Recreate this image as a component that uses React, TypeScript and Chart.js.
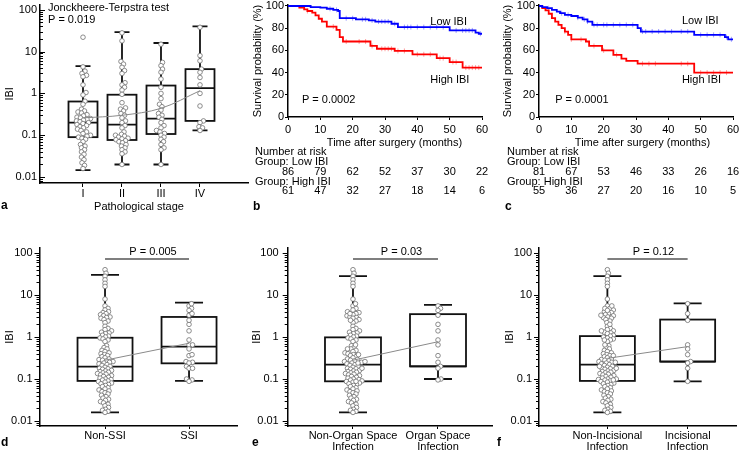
import React, { useEffect, useRef } from "react";
import { Chart, registerables } from "chart.js";

Chart.register(...registerables);

const FONT = "'Liberation Sans', Arial, Helvetica, sans-serif";
Chart.defaults.font.family = FONT;
Chart.defaults.font.size = 11;
Chart.defaults.color = "#000";

const PAGE_W = 741;
const PAGE_H = 452;

// ---------------- Panel a : IBI by pathological stage ----------------
const stageLabels = ["I", "II", "III", "IV"];
const stageQ1 = [0.09, 0.077, 0.107, 0.22];
const stageMedian = [0.2, 0.18, 0.25, 1.33];
const stageQ3 = [0.64, 0.93, 1.54, 3.8];
const stageWhiskerLow = [0.0146, 0.02, 0.02, 0.13];
const stageWhiskerHigh = [4.5, 29, 16, 40];
const stageMean = [0.26, 0.3, 0.44, 1.16];
const stageIValues = [22, 4.3, 3.4, 3.0, 2.7, 2.5, 1.6, 1.05, 0.92, 0.65, 0.55, 0.42, 0.38, 0.36, 0.34, 0.31, 0.29, 0.27, 0.26, 0.25, 0.24, 0.23, 0.22, 0.21, 0.2, 0.19, 0.18, 0.17, 0.16, 0.15, 0.14, 0.13, 0.12, 0.11, 0.1, 0.095, 0.09, 0.085, 0.08, 0.07, 0.06, 0.055, 0.05, 0.045, 0.04, 0.035, 0.03, 0.026, 0.022, 0.019, 0.016];
const stageIIValues = [28, 18, 5.8, 5.0, 4.2, 3.5, 3.0, 1.8, 1.6, 1.4, 1.2, 0.95, 0.6, 0.45, 0.42, 0.38, 0.33, 0.3, 0.26, 0.22, 0.2, 0.17, 0.15, 0.12, 0.105, 0.1, 0.095, 0.09, 0.085, 0.082, 0.078, 0.074, 0.07, 0.066, 0.06, 0.055, 0.05, 0.045, 0.04, 0.036, 0.02];
const stageIIIValues = [15, 5.5, 4.6, 3.8, 3.2, 2.2, 1.4, 1.0, 0.75, 0.55, 0.48, 0.4, 0.33, 0.3, 0.27, 0.24, 0.2, 0.17, 0.15, 0.13, 0.12, 0.11, 0.1, 0.09, 0.08, 0.07, 0.06, 0.05, 0.045, 0.02];
const stageIVValues = [38, 8, 6, 3.8, 3.2, 2.4, 1.6, 1.0, 0.5, 0.22, 0.2, 0.16, 0.15, 0.13];

// ---------------- Panels b, c : Kaplan-Meier ----------------
const kmXTicks = [0, 10, 20, 30, 40, 50, 60];
const kmYTicks = [0, 20, 40, 60, 80, 100];
const riskTimes = [0, 10, 20, 30, 40, 50, 60];

const bLowTimes = [0, 7, 10, 12, 14, 15.5, 16, 21, 25, 27, 32, 34, 50, 58, 59, 60];
const bLowSurv = [100, 99, 98.5, 97.5, 96.5, 95.5, 89, 88, 87, 86, 84, 81, 78, 76, 75, 75];
const bHighTimes = [0, 3.5, 5, 6, 7.5, 8.5, 9.5, 10.5, 12, 15, 16, 17, 25.5, 27.5, 33, 38.5, 46, 50, 54, 60];
const bHighSurv = [100, 98.5, 97, 95.5, 94, 91.5, 88.5, 86, 81.5, 78.5, 72, 68, 64, 61.5, 59.5, 56.5, 53, 49.5, 44.5, 44.5];
const bLowCensor = [13, 15, 18, 20, 23, 24, 26, 28, 29, 30, 31, 33, 36, 37, 38, 40, 42, 44, 46, 48, 52, 54, 55, 56, 57, 59.5];
const bHighCensor = [6, 14, 18, 22, 24, 26, 29, 30, 31, 32, 34, 36, 40, 42, 44, 47, 48, 51, 52, 55, 56, 57, 58, 59];
const bLowAtRisk = [86, 79, 62, 52, 37, 30, 22];
const bHighAtRisk = [61, 47, 32, 27, 18, 14, 6];

const cLowTimes = [0, 1, 2.5, 4, 5.5, 6.5, 8, 10, 12, 13.5, 15, 16.5, 30.5, 31.5, 48, 57.5, 58.5, 60];
const cLowSurv = [100, 99, 98, 96.5, 95, 93.5, 92, 91, 89.5, 88, 86, 83, 80, 77, 74, 72, 70, 70];
const cHighTimes = [0, 1, 2, 3, 4, 5, 6, 7, 8, 9, 10, 14.5, 15.5, 19.5, 23, 25.5, 27, 30.5, 48, 60];
const cHighSurv = [100, 98, 96, 93, 89, 86, 83, 80, 77, 74, 70, 68, 64, 60, 56, 52.5, 50.5, 48, 40, 40];
const cLowCensor = [3, 7, 9, 12, 14, 15, 17, 18, 20, 21, 23, 25, 27, 29, 32, 33, 35, 37, 39, 41, 44, 46, 50, 52, 54, 56, 58, 59.5];
const cHighCensor = [8, 10, 13, 17, 20, 24, 32, 34, 36, 44, 46, 50, 52, 54, 56, 58];
const cLowAtRisk = [81, 67, 53, 46, 33, 26, 16];
const cHighAtRisk = [55, 36, 27, 20, 16, 10, 5];

// ---------------- Panels d, e, f : IBI by infection ----------------
const logTicks = [0.01, 0.1, 1, 10, 100];
const nonSSIValues = [40, 33, 28, 23, 19, 16, 8, 5.5, 4.8, 4.4, 4.0, 3.8, 3.6, 3.4, 3.2, 3.0, 2.9, 2.8, 2.6, 2.4, 2.2, 1.8, 1.6, 1.5, 1.4, 1.3, 1.25, 1.2, 1.1, 1.05, 1.0, 0.95, 0.9, 0.85, 0.78, 0.62, 0.56, 0.52, 0.48, 0.45, 0.42, 0.4, 0.38, 0.36, 0.34, 0.32, 0.3, 0.29, 0.28, 0.27, 0.26, 0.25, 0.24, 0.23, 0.22, 0.21, 0.2, 0.19, 0.18, 0.175, 0.17, 0.16, 0.155, 0.15, 0.145, 0.14, 0.135, 0.13, 0.125, 0.12, 0.115, 0.11, 0.105, 0.1, 0.097, 0.094, 0.09, 0.087, 0.084, 0.08, 0.077, 0.074, 0.07, 0.066, 0.062, 0.058, 0.055, 0.052, 0.05, 0.047, 0.044, 0.041, 0.038, 0.035, 0.033, 0.031, 0.029, 0.027, 0.025, 0.023, 0.021, 0.019, 0.018, 0.017, 0.016];
const organSpaceValues = [5.5, 4.8, 4.3, 3.3, 2.0, 1.4, 0.85, 0.65, 0.36, 0.25, 0.2, 0.18, 0.1, 0.095];
const incisionalValues = [6.2, 3.6, 2.5, 0.65, 0.52, 0.38, 0.26, 0.24, 0.18, 0.088];
const ssiValues = [...organSpaceValues, ...incisionalValues];
const nonOrganSpaceValues = [...nonSSIValues, ...incisionalValues];
const nonIncisionalValues = [...nonSSIValues, ...organSpaceValues];

const dLabels = ["Non-SSI", "SSI"];
const dQ1 = [0.09, 0.236];
const dMedian = [0.197, 0.59];
const dQ3 = [0.96, 3.0];
const dLow = [0.016, 0.09];
const dHigh = [30, 6.6];
const dMean = [0.28, 0.71];

const eLabels = [["Non-Organ Space", "Infection"], ["Organ Space", "Infection"]];
const eQ1 = [0.088, 0.2];
const eMedian = [0.22, 0.2];
const eQ3 = [0.98, 3.5];
const eLow = [0.016, 0.1];
const eHigh = [28, 5.8];
const eMean = [0.28, 0.77];

const fLabels = [["Non-Incisional", "Infection"], ["Incisional", "Infection"]];
const fQ1 = [0.09, 0.26];
const fMedian = [0.22, 0.26];
const fQ3 = [1.05, 2.6];
const fLow = [0.016, 0.088];
const fHigh = [28, 6.3];
const fMean = [0.31, 0.59];

// ---------------- helpers ----------------
function swarmOffsets(values: number[], pxPerDecade: number, minDist: number): number[] {
  const order = values.map((_, i) => i).sort((a, b) => values[a] - values[b]);
  const placed: { x: number; y: number }[] = [];
  const result = new Array(values.length).fill(0);
  for (const i of order) {
    const y = Math.log10(values[i]) * pxPerDecade;
    let chosen = 0;
    for (let k = 0; k < 600; k++) {
      const mag = Math.ceil(k / 2) * 0.5;
      const cand = k % 2 === 1 ? mag : -mag;
      let ok = true;
      for (const p of placed) {
        const dy = p.y - y;
        if (Math.abs(dy) < minDist) {
          const dx = p.x - cand;
          if (dx * dx + dy * dy < minDist * minDist) {
            ok = false;
            break;
          }
        }
      }
      if (ok) {
        chosen = cand;
        break;
      }
    }
    placed.push({ x: chosen, y });
    result[i] = chosen;
  }
  return result;
}

function survAt(times: number[], surv: number[], t: number): number {
  let s = surv[0];
  for (let i = 0; i < times.length; i++) if (times[i] <= t) s = surv[i];
  return s;
}

function drawLetter(ctx: CanvasRenderingContext2D, letter: string, x: number, y: number) {
  ctx.save();
  ctx.fillStyle = "#000";
  ctx.font = `bold 12px ${FONT}`;
  ctx.textAlign = "left";
  ctx.textBaseline = "alphabetic";
  ctx.fillText(letter, x, y);
  ctx.restore();
}

function drawText(ctx: CanvasRenderingContext2D, text: string, x: number, y: number, align: CanvasTextAlign = "left") {
  ctx.save();
  ctx.fillStyle = "#000";
  ctx.font = `11px ${FONT}`;
  ctx.textAlign = align;
  ctx.textBaseline = "middle";
  ctx.fillText(text, x, y);
  ctx.restore();
}

type Area = { l: number; t: number; r: number; b: number };

type BoxSpec = {
  area: Area;
  yMin: number;
  yMax: number;
  xMin: number;
  xMax: number;
  labels: (string | string[])[];
  q1: number[];
  med: number[];
  q3: number[];
  lo: number[];
  hi: number[];
  mean: number[];
  points: number[][];
  boxW: number;
  capW: number;
  pxPerUnit: number;
  pxPerDecade: number;
  swarmDist: number;
  yTitleX: number;
  yLabelPad: number;
  tickDir: number;
  xTickLen: number;
  xTickPad: number;
  xAxisH: number;
  xLineHeight: number;
  meanTension: number;
  extra: (ctx: CanvasRenderingContext2D, chart: any) => void;
};

function boxConfig(s: BoxSpec): any {
  const padL = s.yTitleX - 6.6;
  const datasets: any[] = [
    {
      type: "line",
      data: s.mean.map((m, i) => ({ x: i + 1, y: m })),
      borderColor: "#8a8a8a",
      borderWidth: 1,
      pointRadius: 0,
      tension: s.meanTension,
      fill: false,
    },
  ];
  s.points.forEach((vals, ci) => {
    const offs = swarmOffsets(vals, s.pxPerDecade, s.swarmDist);
    datasets.push({
      type: "scatter",
      data: vals.map((v, i) => ({ x: ci + 1 + offs[i] / s.pxPerUnit, y: v })),
      pointRadius: 2.3,
      pointBorderWidth: 0.8,
      pointBorderColor: "#707070",
      pointBackgroundColor: "#ffffff",
      showLine: false,
    });
  });

  const plugin = {
    id: "boxplot",
    beforeDatasetsDraw(chart: any) {
      const { ctx } = chart;
      const x = chart.scales.x;
      const y = chart.scales.y;
      ctx.save();
      ctx.strokeStyle = "#111";
      ctx.lineWidth = 1.8;
      s.q1.forEach((_, i) => {
        const cx = x.getPixelForValue(i + 1);
        const pq1 = y.getPixelForValue(s.q1[i]);
        const pq3 = y.getPixelForValue(s.q3[i]);
        const pmed = y.getPixelForValue(s.med[i]);
        const plo = y.getPixelForValue(s.lo[i]);
        const phi = y.getPixelForValue(s.hi[i]);
        ctx.beginPath();
        ctx.moveTo(cx, phi);
        ctx.lineTo(cx, pq3);
        ctx.moveTo(cx, pq1);
        ctx.lineTo(cx, plo);
        ctx.moveTo(cx - s.capW / 2, phi);
        ctx.lineTo(cx + s.capW / 2, phi);
        ctx.moveTo(cx - s.capW / 2, plo);
        ctx.lineTo(cx + s.capW / 2, plo);
        ctx.moveTo(cx - s.boxW / 2, pmed);
        ctx.lineTo(cx + s.boxW / 2, pmed);
        ctx.stroke();
        ctx.strokeRect(cx - s.boxW / 2, pq3, s.boxW, pq1 - pq3);
      });
      ctx.restore();
    },
    afterDraw(chart: any) {
      const { ctx, chartArea } = chart;
      const y = chart.scales.y;
      ctx.save();
      ctx.strokeStyle = "#000";
      ctx.lineWidth = 1;
      const ax = chartArea.left;
      for (let d = -3; d <= 2; d++) {
        for (let k = 1; k <= 9; k++) {
          const v = k * Math.pow(10, d);
          if (v < s.yMin || v > s.yMax) continue;
          const py = Math.round(y.getPixelForValue(v)) + 0.5;
          const len = k === 1 ? 5 : 3;
          ctx.beginPath();
          ctx.moveTo(ax, py);
          ctx.lineTo(ax + s.tickDir * len, py);
          ctx.stroke();
        }
      }
      ctx.restore();
      s.extra(ctx, chart);
    },
  };

  return {
    type: "scatter",
    data: { datasets },
    plugins: [plugin],
    options: {
      animation: false,
      responsive: false,
      maintainAspectRatio: false,
      devicePixelRatio: 1,
      events: [],
      layout: {
        padding: {
          left: padL,
          top: s.area.t,
          right: PAGE_W - s.area.r,
          bottom: PAGE_H - s.area.b - s.xAxisH,
        },
      },
      plugins: { legend: { display: false }, tooltip: { enabled: false } },
      scales: {
        x: {
          type: "linear",
          min: s.xMin,
          max: s.xMax,
          bounds: "data",
          afterBuildTicks: (sc: any) => {
            sc.ticks = s.labels.map((_, i) => ({ value: i + 1 }));
          },
          afterFit: (sc: any) => {
            sc.height = s.xAxisH;
            sc.paddingLeft = 0;
            sc.paddingRight = 0;
          },
          grid: { display: true, drawOnChartArea: false, drawTicks: true, tickLength: s.xTickLen, color: "#000", lineWidth: 1 },
          border: { display: true, color: "#000", width: 1.5 },
          ticks: {
            callback: (_v: any, i: number) => s.labels[i],
            padding: s.xTickPad,
            maxRotation: 0,
            autoSkip: false,
            color: "#000",
            font: { size: 11, lineHeight: s.xLineHeight },
          },
          title: { display: false },
        },
        y: {
          type: "logarithmic",
          min: s.yMin,
          max: s.yMax,
          bounds: "data",
          afterBuildTicks: (sc: any) => {
            sc.ticks = logTicks.map((v) => ({ value: v }));
          },
          afterFit: (sc: any) => {
            sc.width = s.area.l - padL;
            sc.paddingTop = 0;
            sc.paddingBottom = 0;
          },
          grid: { display: false, drawTicks: false },
          border: { display: true, color: "#000", width: 1.5 },
          ticks: {
            callback: (v: any) => String(v),
            padding: s.yLabelPad,
            color: "#000",
            font: { size: 11 },
          },
          title: { display: true, text: "IBI", padding: 0, color: "#000", font: { size: 11 } },
        },
      },
    },
  };
}

type KMSpec = {
  area: Area;
  lowT: number[];
  lowS: number[];
  highT: number[];
  highS: number[];
  lowC: number[];
  highC: number[];
  lowRisk: number[];
  highRisk: number[];
  yTitleX: number;
  xTitleX: number;
  textLeft: number;
  pText: string;
  lowLabelAt: [number, number];
  highLabelAt: [number, number];
  pAt: [number, number];
  letter: string;
  letterX: number;
};

function kmConfig(s: KMSpec): any {
  const padL = s.yTitleX - 6.6;
  const xAxisH = 32.3;
  const datasets: any[] = [
    {
      type: "line",
      data: s.lowT.map((t, i) => ({ x: t, y: s.lowS[i] })),
      stepped: "before",
      borderColor: "#0000ff",
      borderWidth: 1.8,
      pointRadius: 0,
      fill: false,
    },
    {
      type: "line",
      data: s.highT.map((t, i) => ({ x: t, y: s.highS[i] })),
      stepped: "before",
      borderColor: "#ff0000",
      borderWidth: 1.8,
      pointRadius: 0,
      fill: false,
    },
    {
      type: "scatter",
      data: s.lowC.map((t) => ({ x: t, y: survAt(s.lowT, s.lowS, t) })),
      pointStyle: "line",
      rotation: 90,
      pointRadius: 2.5,
      pointBorderWidth: 1,
      pointBorderColor: "rgba(80,80,255,0.55)",
      showLine: false,
    },
    {
      type: "scatter",
      data: s.highC.map((t) => ({ x: t, y: survAt(s.highT, s.highS, t) })),
      pointStyle: "line",
      rotation: 90,
      pointRadius: 2.5,
      pointBorderWidth: 1,
      pointBorderColor: "rgba(255,80,80,0.55)",
      showLine: false,
    },
  ];

  const plugin = {
    id: "kmExtras",
    afterDraw(chart: any) {
      const { ctx } = chart;
      const x = chart.scales.x;
      const y = chart.scales.y;
      drawText(ctx, "Low IBI", x.getPixelForValue(s.lowLabelAt[0]), y.getPixelForValue(s.lowLabelAt[1]));
      drawText(ctx, "High IBI", x.getPixelForValue(s.highLabelAt[0]), y.getPixelForValue(s.highLabelAt[1]));
      drawText(ctx, s.pText, x.getPixelForValue(s.pAt[0]), y.getPixelForValue(s.pAt[1]));
      drawText(ctx, "Time after surgery (months)", s.xTitleX, 142.7, "center");
      drawText(ctx, "Number at risk", s.textLeft, 152);
      drawText(ctx, "Group: Low IBI", s.textLeft, 162.3);
      drawText(ctx, "Group: High IBI", s.textLeft, 181.5);
      riskTimes.forEach((t, i) => {
        drawText(ctx, String(s.lowRisk[i]), x.getPixelForValue(t), 171.7, "center");
        drawText(ctx, String(s.highRisk[i]), x.getPixelForValue(t), 190.7, "center");
      });
      drawLetter(ctx, s.letter, s.letterX, 210);
    },
  };

  return {
    type: "line",
    data: { datasets },
    plugins: [plugin],
    options: {
      animation: false,
      responsive: false,
      maintainAspectRatio: false,
      devicePixelRatio: 1,
      events: [],
      layout: {
        padding: {
          left: padL,
          top: s.area.t,
          right: PAGE_W - s.area.r,
          bottom: PAGE_H - s.area.b - xAxisH,
        },
      },
      plugins: { legend: { display: false }, tooltip: { enabled: false } },
      scales: {
        x: {
          type: "linear",
          min: 0,
          max: 60,
          bounds: "data",
          afterBuildTicks: (sc: any) => {
            sc.ticks = kmXTicks.map((v) => ({ value: v }));
          },
          afterFit: (sc: any) => {
            sc.height = xAxisH;
            sc.paddingLeft = 0;
            sc.paddingRight = 0;
          },
          grid: { display: true, drawOnChartArea: false, drawTicks: true, tickLength: 3, color: "#000", lineWidth: 1 },
          border: { display: true, color: "#000", width: 1.5 },
          ticks: { padding: 3.4, maxRotation: 0, autoSkip: false, color: "#000", font: { size: 11 } },
          title: { display: false },
        },
        y: {
          type: "linear",
          min: 0,
          max: 100.9,
          bounds: "data",
          afterBuildTicks: (sc: any) => {
            sc.ticks = kmYTicks.map((v) => ({ value: v }));
          },
          afterFit: (sc: any) => {
            sc.width = s.area.l - padL;
            sc.paddingTop = 0;
            sc.paddingBottom = 0;
          },
          grid: { display: true, drawOnChartArea: false, drawTicks: true, tickLength: 3, color: "#000", lineWidth: 1 },
          border: { display: true, color: "#000", width: 1.5 },
          ticks: { padding: 1, color: "#000", font: { size: 11 } },
          title: { display: true, text: "Survival probability (%)", padding: 0, color: "#000", font: { size: 11 } },
        },
      },
    },
  };
}

function pBar(ctx: CanvasRenderingContext2D, chart: any, text: string) {
  const x = chart.scales.x;
  const x1 = x.getPixelForValue(1);
  const x2 = x.getPixelForValue(2);
  ctx.save();
  ctx.strokeStyle = "#000";
  ctx.lineWidth = 1.2;
  ctx.beginPath();
  ctx.moveTo(x1, 259);
  ctx.lineTo(x2, 259);
  ctx.stroke();
  ctx.restore();
  drawText(ctx, text, (x1 + x2) / 2 + 6, 252, "center");
}

// ---------------- panel specs ----------------
const panelA: BoxSpec = {
  area: { l: 40, t: 2, r: 248, b: 183 },
  yMin: 0.00722,
  yMax: 131,
  xMin: -0.1026,
  xMax: 5.231,
  labels: stageLabels,
  q1: stageQ1,
  med: stageMedian,
  q3: stageQ3,
  lo: stageWhiskerLow,
  hi: stageWhiskerHigh,
  mean: stageMean,
  points: [stageIValues, stageIIValues, stageIIIValues, stageIVValues],
  boxW: 29,
  capW: 15,
  pxPerUnit: 39,
  pxPerDecade: 42.5,
  swarmDist: 3.5,
  yTitleX: 10,
  yLabelPad: 3,
  tickDir: 1,
  xTickLen: 4,
  xTickPad: 0,
  xAxisH: 31,
  xLineHeight: 1.2,
  meanTension: 0.35,
  extra: (ctx) => {
    drawText(ctx, "Jonckheere-Terpstra test", 48, 7.5);
    drawText(ctx, "P = 0.019", 48, 20);
    drawText(ctx, "Pathological stage", 139, 207.4, "center");
    drawLetter(ctx, "a", 1, 209);
  },
};

const panelD: BoxSpec = {
  area: { l: 39.5, t: 248, r: 237, b: 426 },
  yMin: 0.0076,
  yMax: 131.5,
  xMin: 0.22,
  xMax: 2.571,
  labels: dLabels,
  q1: dQ1,
  med: dMedian,
  q3: dQ3,
  lo: dLow,
  hi: dHigh,
  mean: dMean,
  points: [nonSSIValues, ssiValues],
  boxW: 55,
  capW: 28,
  pxPerUnit: 84,
  pxPerDecade: 42,
  swarmDist: 3.1,
  yTitleX: 10,
  yLabelPad: 7,
  tickDir: -1,
  xTickLen: 3,
  xTickPad: 1.35,
  xAxisH: 26,
  xLineHeight: 1.03,
  meanTension: 0,
  extra: (ctx, chart) => {
    pBar(ctx, chart, "P = 0.005");
    drawLetter(ctx, "d", 1, 446);
  },
};

const panelE: BoxSpec = {
  area: { l: 287.7, t: 248, r: 493, b: 426 },
  yMin: 0.0076,
  yMax: 131.5,
  xMin: 0.232,
  xMax: 2.647,
  labels: eLabels,
  q1: eQ1,
  med: eMedian,
  q3: eQ3,
  lo: eLow,
  hi: eHigh,
  mean: eMean,
  points: [nonOrganSpaceValues, organSpaceValues],
  boxW: 56,
  capW: 28,
  pxPerUnit: 85,
  pxPerDecade: 42,
  swarmDist: 3.1,
  yTitleX: 257,
  yLabelPad: 9,
  tickDir: -1,
  xTickLen: 3,
  xTickPad: 1.35,
  xAxisH: 26,
  xLineHeight: 1.03,
  meanTension: 0,
  extra: (ctx, chart) => {
    pBar(ctx, chart, "P = 0.03");
    drawLetter(ctx, "e", 252, 446);
  },
};

const panelF: BoxSpec = {
  area: { l: 539, t: 248, r: 738, b: 426 },
  yMin: 0.0076,
  yMax: 131.5,
  xMin: 0.148,
  xMax: 2.605,
  labels: fLabels,
  q1: fQ1,
  med: fMedian,
  q3: fQ3,
  lo: fLow,
  hi: fHigh,
  mean: fMean,
  points: [nonIncisionalValues, incisionalValues],
  boxW: 55,
  capW: 28,
  pxPerUnit: 81,
  pxPerDecade: 42,
  swarmDist: 3.1,
  yTitleX: 510,
  yLabelPad: 7,
  tickDir: -1,
  xTickLen: 3,
  xTickPad: 1.35,
  xAxisH: 26,
  xLineHeight: 1.03,
  meanTension: 0,
  extra: (ctx, chart) => {
    pBar(ctx, chart, "P = 0.12");
    drawLetter(ctx, "f", 497, 446);
  },
};

const panelB: KMSpec = {
  area: { l: 288, t: 3, r: 482, b: 117 },
  lowT: bLowTimes,
  lowS: bLowSurv,
  highT: bHighTimes,
  highS: bHighSurv,
  lowC: bLowCensor,
  highC: bHighCensor,
  lowRisk: bLowAtRisk,
  highRisk: bHighAtRisk,
  yTitleX: 258,
  xTitleX: 394.5,
  textLeft: 255,
  pText: "P = 0.0002",
  lowLabelAt: [44, 86],
  highLabelAt: [44, 33],
  pAt: [4.3, 15],
  letter: "b",
  letterX: 253,
};

const panelC: KMSpec = {
  area: { l: 539, t: 3, r: 733, b: 117 },
  lowT: cLowTimes,
  lowS: cLowSurv,
  highT: cHighTimes,
  highS: cHighSurv,
  lowC: cLowCensor,
  highC: cHighCensor,
  lowRisk: cLowAtRisk,
  highRisk: cHighAtRisk,
  yTitleX: 508,
  xTitleX: 642.5,
  textLeft: 507,
  pText: "P = 0.0001",
  lowLabelAt: [44.2, 86.5],
  highLabelAt: [44.2, 33],
  pAt: [5, 15],
  letter: "c",
  letterX: 505,
};

function ChartCanvas({ makeConfig }: { makeConfig: () => any }) {
  const ref = useRef<HTMLCanvasElement>(null);
  useEffect(() => {
    const chart = new Chart(ref.current as HTMLCanvasElement, makeConfig());
    return () => chart.destroy();
  }, []);
  return (
    <canvas
      ref={ref}
      width={PAGE_W}
      height={PAGE_H}
      style={{ position: "absolute", left: 0, top: 0, width: PAGE_W, height: PAGE_H }}
    />
  );
}

export default function App() {
  return (
    <div
      style={{
        position: "absolute",
        left: 0,
        top: 0,
        width: PAGE_W,
        height: PAGE_H,
        background: "#ffffff",
        overflow: "hidden",
      }}
    >
      <ChartCanvas makeConfig={() => boxConfig(panelA)} />
      <ChartCanvas makeConfig={() => kmConfig(panelB)} />
      <ChartCanvas makeConfig={() => kmConfig(panelC)} />
      <ChartCanvas makeConfig={() => boxConfig(panelD)} />
      <ChartCanvas makeConfig={() => boxConfig(panelE)} />
      <ChartCanvas makeConfig={() => boxConfig(panelF)} />
    </div>
  );
}
